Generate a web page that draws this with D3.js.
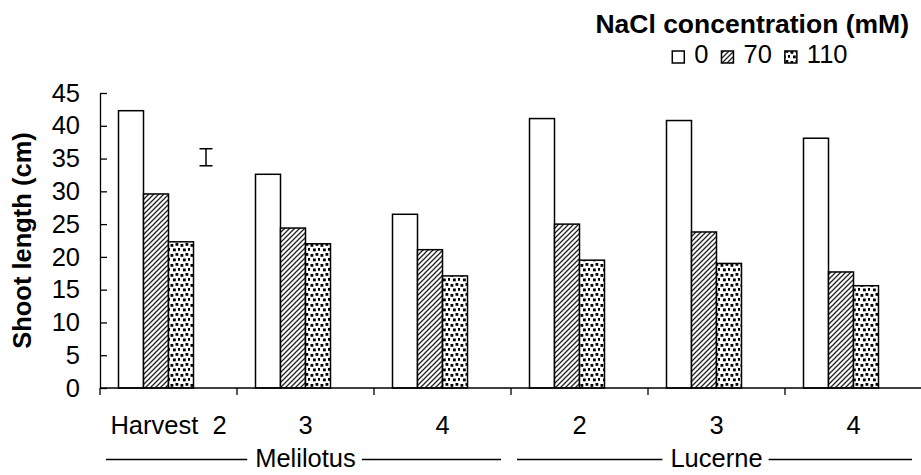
<!DOCTYPE html>
<html>
<head>
<meta charset="utf-8">
<script src="https://cdn.jsdelivr.net/npm/d3@7/dist/d3.min.js"></script>
<style>
  html, body { margin: 0; padding: 0; background: #fff; }
  svg { display: block; }
  text { font-family: "Liberation Sans", Arial, Helvetica, sans-serif; fill: #000; }
</style>
</head>
<body>
<svg id="chart" width="921" height="475"></svg>
<script>
// Shoot length of Melilotus and Lucerne at three harvests under three NaCl levels
const tickLabels = ["Harvest  2", "3", "4", "2", "3", "4"];
const crops = ["Melilotus", "Lucerne"];
const cropOfCategory = [0, 0, 0, 1, 1, 1];
const seriesNames = ["0", "70", "110"];
const nacl0 = [42.3, 32.6, 26.5, 41.1, 40.8, 38.1];
const nacl70 = [29.6, 24.4, 21.1, 25.0, 23.8, 17.7];
const nacl110 = [22.3, 22.0, 17.1, 19.5, 19.0, 15.6];
// LSD bar, drawn in the fourth slot of the first group
const lsdCentre = 35.2;
const lsdValue = 2.6;
const yTicks = [0, 5, 10, 15, 20, 25, 30, 35, 40, 45];

const svg = d3.select("#chart");
const margin = { left: 100, top: 93, right: 0 };
const plotW = 822, plotH = 295;
const fs = 25.5;

// Patterns used to fill the bars
const defs = svg.append("defs");
const hatch = defs.append("pattern").attr("id", "hatch")
  .attr("patternUnits", "userSpaceOnUse").attr("width", 5).attr("height", 5);
hatch.append("rect").attr("width", 5).attr("height", 5).attr("fill", "#fff");
hatch.append("path").attr("d", "M-1,1 l2,-2 M0,5 l5,-5 M4,6 l2,-2")
  .attr("stroke", "#222").attr("stroke-width", 1.3);

const dots = defs.append("pattern").attr("id", "dots")
  .attr("patternUnits", "userSpaceOnUse").attr("width", 10).attr("height", 10);
dots.append("rect").attr("width", 10).attr("height", 10).attr("fill", "#fff");
[[0.5, 1], [5.5, 0], [3, 5.5], [8, 5]].forEach(([x, y]) =>
  dots.append("rect").attr("x", x).attr("y", y).attr("width", 2.8).attr("height", 2.8).attr("fill", "#000"));

const fills = ["#fff", "url(#hatch)", "url(#dots)"];
const seriesValues = [nacl0, nacl70, nacl110];

const g = svg.append("g").attr("transform", `translate(${margin.left},${margin.top})`);

const x0 = d3.scaleBand().domain(d3.range(tickLabels.length)).range([0, plotW]).padding(0);
const slots = seriesNames.concat(["LSD"]);
const x1 = d3.scaleBand().domain(slots).range([0, x0.bandwidth()]).paddingInner(0).paddingOuter(0.74);
const y = d3.scaleLinear().domain([0, 45]).range([plotH, 0]);

// Bars
seriesValues.forEach((vals, si) => {
  g.append("g").selectAll("rect").data(vals).join("rect")
    .attr("x", (d, i) => x0(i) + x1(seriesNames[si]))
    .attr("y", d => y(d))
    .attr("width", x1.bandwidth())
    .attr("height", d => y(0) - y(d))
    .attr("fill", fills[si])
    .attr("stroke", "#000")
    .attr("stroke-width", 1.5);
});

// LSD error bar
const lx = x0(0) + x1("LSD") + x1.bandwidth() / 2;
const lTop = y(lsdCentre + lsdValue / 2), lBot = y(lsdCentre - lsdValue / 2);
const eb = g.append("g").attr("stroke", "#000").attr("stroke-width", 1.5);
eb.append("line").attr("x1", lx).attr("x2", lx).attr("y1", lTop).attr("y2", lBot);
eb.append("line").attr("x1", lx - 6.5).attr("x2", lx + 6.5).attr("y1", lTop).attr("y2", lTop);
eb.append("line").attr("x1", lx - 6.5).attr("x2", lx + 6.5).attr("y1", lBot).attr("y2", lBot);

// Y axis: inward ticks
const yAxis = g.append("g").call(d3.axisLeft(y).tickValues(yTicks).tickSizeInner(-7).tickSizeOuter(0).tickPadding(20));
yAxis.select(".domain").attr("stroke", "#000").attr("stroke-width", 1.3);
yAxis.selectAll(".tick line").attr("stroke", "#000").attr("stroke-width", 1.3);
yAxis.selectAll(".tick text").attr("font-size", fs).attr("font-family", null);

// X axis: line with downward ticks at category boundaries
const xBounds = d3.range(tickLabels.length + 1).map(i => i * x0.step());
g.append("line").attr("x1", 0).attr("x2", plotW).attr("y1", plotH).attr("y2", plotH)
  .attr("stroke", "#000").attr("stroke-width", 1.3);
g.append("g").selectAll("line").data(xBounds).join("line")
  .attr("x1", d => d).attr("x2", d => d).attr("y1", plotH).attr("y2", plotH + 7)
  .attr("stroke", "#000").attr("stroke-width", 1.3);

// Category labels
g.append("g").selectAll("text").data(tickLabels).join("text")
  .attr("x", (d, i) => x0(i) + x0.bandwidth() / 2)
  .attr("y", plotH + 46)
  .attr("text-anchor", "middle")
  .attr("font-size", fs)
  .style("white-space", "pre")
  .text(d => d);

// Crop labels with rules on either side
crops.forEach((name, ci) => {
  const idx = cropOfCategory.map((c, i) => c === ci ? i : -1).filter(i => i >= 0);
  const a = x0(idx[0]), b = x0(idx[idx.length - 1]) + x0.bandwidth();
  const cx = (a + b) / 2;
  const t = g.append("text").attr("x", cx).attr("y", plotH + 79)
    .attr("text-anchor", "middle").attr("font-size", fs).text(name);
  const w = t.node().getComputedTextLength();
  const ly = plotH + 71.5;
  g.append("line").attr("x1", a + 6).attr("x2", cx - w / 2 - 8).attr("y1", ly).attr("y2", ly)
    .attr("stroke", "#000").attr("stroke-width", 1.3);
  g.append("line").attr("x1", cx + w / 2 + 6).attr("x2", b - 10).attr("y1", ly).attr("y2", ly)
    .attr("stroke", "#000").attr("stroke-width", 1.3);
});

// Y axis title
svg.append("text")
  .attr("transform", `translate(31,${margin.top + plotH / 2}) rotate(-90)`)
  .attr("text-anchor", "middle")
  .attr("font-size", fs)
  .attr("font-weight", "bold")
  .text("Shoot length (cm)");

// Legend
svg.append("text").attr("x", 909).attr("y", 33)
  .attr("text-anchor", "end").attr("font-size", 26.5).attr("font-weight", "bold")
  .text("NaCl concentration (mM)");

const legend = svg.append("g");
const boxW = 12, gapText = 10, gapItem = 13;
const widths = seriesNames.map(s => {
  const t = legend.append("text").attr("font-size", fs).text(s);
  const w = t.node().getComputedTextLength();
  t.remove();
  return w;
});
const total = d3.sum(widths) + seriesNames.length * (boxW + gapText) + (seriesNames.length - 1) * gapItem;
let lx0 = 847.5 - total;
seriesNames.forEach((s, i) => {
  legend.append("rect").attr("x", lx0).attr("y", 51).attr("width", boxW).attr("height", boxW)
    .attr("fill", fills[i]).attr("stroke", "#000").attr("stroke-width", 1.5);
  legend.append("text").attr("x", lx0 + boxW + gapText).attr("y", 63)
    .attr("font-size", fs).text(s);
  lx0 += boxW + gapText + widths[i] + gapItem;
});
</script>
</body>
</html>
